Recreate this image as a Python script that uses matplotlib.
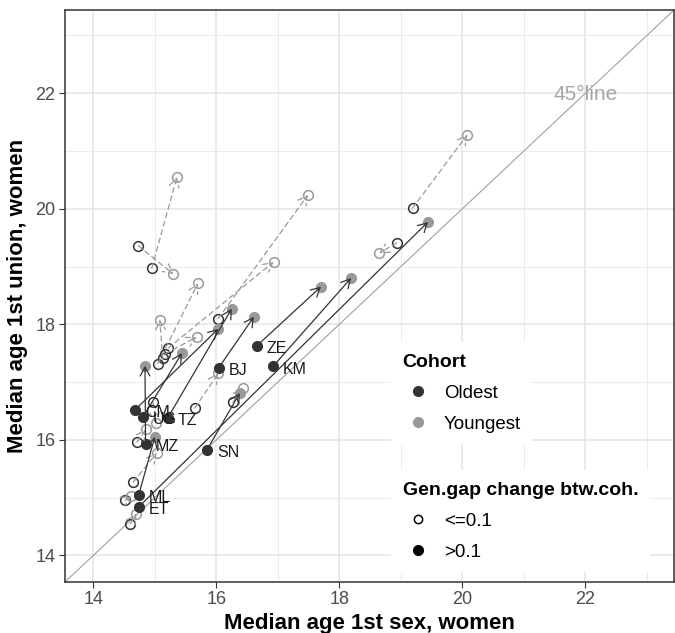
import numpy as np
import matplotlib.pyplot as plt
from matplotlib.lines import Line2D

plt.rcParams['font.family'] = ['Liberation Sans', 'DejaVu Sans']

# Countries where the generational gap changed by more than 0.1 (filled points, solid arrows)
paises = ['CM', 'UG', 'TZ', 'BJ', 'ZE', 'KM', 'MZ', 'SN', 'ML', 'ET']
sexo_oldest = [14.68, 14.81, 15.21, 16.04, 16.66, 16.92, 14.85, 15.85, 14.74, 14.74]
union_oldest = [16.52, 16.40, 16.38, 17.25, 17.63, 17.27, 15.93, 15.83, 15.05, 14.84]
sexo_youngest = [16.03, 15.44, 16.25, 16.61, 17.70, 18.19, 14.84, 16.38, 15.00, 19.44]
union_youngest = [17.92, 17.50, 18.27, 18.13, 18.65, 18.80, 17.28, 16.81, 16.05, 19.77]

# Countries where the change was <= 0.1 (open circles, dashed arrows)
sexo_oldest_b = [14.73, 14.95, 19.19, 18.93, 16.03, 15.22, 15.17, 15.13, 15.05, 15.65,
                 16.27, 14.65, 14.52, 14.60, 14.71, 14.97]
union_oldest_b = [19.36, 18.97, 20.01, 19.41, 18.10, 17.59, 17.49, 17.41, 17.32, 16.55,
                  16.65, 15.27, 14.96, 14.55, 15.96, 16.65]
sexo_youngest_b = [15.30, 15.36, 20.08, 18.65, 17.49, 16.93, 15.68, 15.08, 15.70, 16.03,
                   16.43, 15.03, 14.62, 14.70, 14.86, 15.02]
union_youngest_b = [18.87, 20.55, 21.28, 19.23, 20.24, 19.08, 17.78, 18.08, 18.71, 17.15,
                    16.90, 15.77, 15.02, 14.72, 16.18, 16.30]

col_old = '#333333'
col_young = '#999999'

fig = plt.figure(figsize=(6.75, 6.33), dpi=100)
ax = fig.add_axes([65 / 675, (633 - 582) / 633, 609 / 675, 572 / 633])

ax.set_xlim(13.54, 23.44)
ax.set_ylim(13.54, 23.44)
ax.set_xticks([14, 16, 18, 20, 22])
ax.set_yticks([14, 16, 18, 20, 22])
ax.set_xticks([15, 17, 19, 21, 23], minor=True)
ax.set_yticks([15, 17, 19, 21, 23], minor=True)
ax.grid(which='major', color='#e6e6e6', lw=1.2, zorder=0)
ax.grid(which='minor', color='#ebebeb', lw=0.7, zorder=0)
ax.set_axisbelow(True)
ax.tick_params(which='major', length=4.3, width=0.8, color='#333333',
               labelsize=13, labelcolor='#4d4d4d', pad=2.5)
ax.tick_params(which='minor', length=0)
for s in ax.spines.values():
    s.set_color('#333333')
    s.set_linewidth(1.1)

# 45 degree line
ax.axline((14, 14), slope=1, color='#a0a0a0', lw=0.8, zorder=1)
ax.text(22.0, 21.97, '45°line', color='#a6a6a6', fontsize=15, ha='center', va='center')

# open circles
ax.plot(sexo_oldest_b, union_oldest_b, 'o', ls='', mfc='none', mec=col_old, mew=1.1,
        ms=7, zorder=3)
ax.plot(sexo_youngest_b, union_youngest_b, 'o', ls='', mfc='none', mec=col_young, mew=1.1,
        ms=7, zorder=3)
for x0, y0, x1, y1 in zip(sexo_oldest_b, union_oldest_b, sexo_youngest_b, union_youngest_b):
    ax.annotate('', xy=(x1, y1), xytext=(x0, y0), zorder=4,
                arrowprops=dict(arrowstyle='->,head_length=0.45,head_width=0.25',
                                mutation_scale=14, color=col_young, lw=0.9,
                                linestyle=(0, (4, 3)), shrinkA=0, shrinkB=0))

# filled points
ax.plot(sexo_oldest, union_oldest, 'o', ls='', color=col_old, ms=7, zorder=3)
ax.plot(sexo_youngest, union_youngest, 'o', ls='', color=col_young, ms=7, zorder=3)
for x0, y0, x1, y1 in zip(sexo_oldest, union_oldest, sexo_youngest, union_youngest):
    ax.annotate('', xy=(x1, y1), xytext=(x0, y0), zorder=5,
                arrowprops=dict(arrowstyle='->,head_length=0.45,head_width=0.25',
                                mutation_scale=14, color=col_old, lw=0.9,
                                shrinkA=0, shrinkB=0))
for p, x, y in zip(paises, sexo_oldest, union_oldest):
    ax.annotate(p, (x, y), xytext=(7, -2), textcoords='offset points', fontsize=11.5,
                color='#1a1a1a', ha='left', va='center', zorder=6)

ax.set_xlabel('Median age 1st sex, women', fontsize=16, fontweight='bold', labelpad=3)
ax.set_ylabel('Median age 1st union, women', fontsize=16, fontweight='bold', labelpad=5)

# legends
estilo = dict(loc='upper left', bbox_transform=fig.transFigure, fontsize=13.5,
              title_fontproperties={'weight': 'bold', 'size': 14}, alignment='left',
              frameon=True, facecolor='white', edgecolor='none', fancybox=False,
              framealpha=1, borderpad=0.6, handlelength=1.6, handletextpad=0.6,
              labelspacing=0.75)

h1 = [Line2D([], [], marker='o', ls='', color=col_old, ms=7),
      Line2D([], [], marker='o', ls='', color=col_young, ms=7)]
leg1 = ax.legend(h1, ['Oldest', 'Youngest'], title='Cohort',
                 bbox_to_anchor=(382 / 675, 1 - 333 / 633), **estilo)
leg1.set_zorder(10)
ax.add_artist(leg1)

h2 = [Line2D([], [], marker='o', ls='', mfc='none', mec='black', mew=1.1, ms=6),
      Line2D([], [], marker='o', ls='', color='black', ms=7)]
leg2 = ax.legend(h2, ['<=0.1', '>0.1'], title='Gen.gap change btw.coh.',
                 bbox_to_anchor=(382 / 675, 1 - 461 / 633), **estilo)
leg2.set_zorder(10)

fig.savefig('out.png', dpi=100)
